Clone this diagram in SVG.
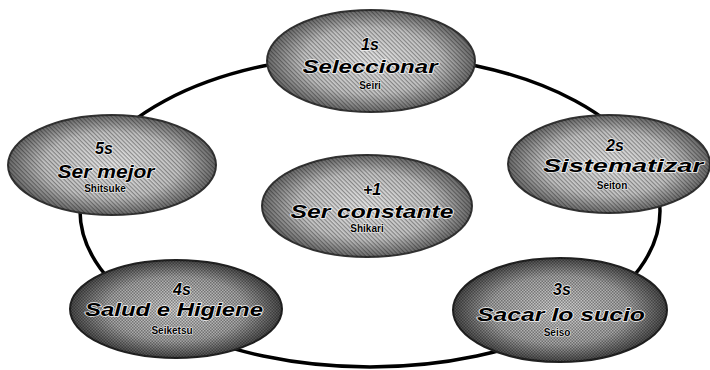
<svg xmlns="http://www.w3.org/2000/svg" width="710" height="370" viewBox="0 0 710 370">
<defs>
<radialGradient id="g" cx="50%" cy="50%" r="50%">
<stop offset="0" stop-color="#e6e6e6"/>
<stop offset="0.65" stop-color="#c4c4c4"/>
<stop offset="1" stop-color="#6a6a6a"/>
</radialGradient>
<radialGradient id="gd" cx="50%" cy="50%" r="50%">
<stop offset="0" stop-color="#d0d0d0"/>
<stop offset="0.65" stop-color="#a8a8a8"/>
<stop offset="1" stop-color="#4a4a4a"/>
</radialGradient>
<pattern id="h" width="3" height="3" patternUnits="userSpaceOnUse" patternTransform="rotate(45)">
<rect width="3" height="1.2" fill="#000" fill-opacity="0.35"/>
</pattern>
<pattern id="hd" width="3" height="3" patternUnits="userSpaceOnUse">
<rect width="1.5" height="1.5" fill="#000" fill-opacity="0.35"/>
<rect x="1.5" y="1.5" width="1.5" height="1.5" fill="#000" fill-opacity="0.35"/>
</pattern>
</defs>
<style>
.base{fill:url(#g);stroke:#333;stroke-width:2}
.based{fill:url(#gd);stroke:#222;stroke-width:2}
.tex{fill:url(#h);stroke:none}
.texd{fill:url(#hd);stroke:none}
text{font-family:"Liberation Sans",Arial,sans-serif;font-weight:bold;text-anchor:middle;fill:#000;stroke:#f2f2f2;stroke-width:1.4;paint-order:stroke;stroke-linejoin:round}
.big{font-size:18px;font-style:italic}
.num{font-size:16px;font-style:italic}
.sm{font-size:10px;stroke-width:1.2}
.ring{fill:none;stroke:#000;stroke-width:3.5}
</style>
<rect width="710" height="370" fill="#fff"/>
<g id="connectors">
<ellipse class="ring" cx="370" cy="211" rx="290" ry="156"/>
</g>
<g id="node-1s">
<ellipse class="base" cx="371" cy="61" rx="104" ry="51"/>
<ellipse class="tex" cx="371" cy="61" rx="104" ry="51"/>
<text class="num" x="370" y="50">1s</text>
<text class="big" x="370" y="73" textLength="135" lengthAdjust="spacingAndGlyphs">Seleccionar</text>
<text class="sm" x="370" y="89">Seiri</text>
</g>
<g id="node-2s">
<ellipse class="base" cx="609" cy="164" rx="101" ry="49"/>
<ellipse class="tex" cx="609" cy="164" rx="101" ry="49"/>
<text class="num" x="615" y="151">2s</text>
<text class="big" x="623" y="172" textLength="160" lengthAdjust="spacingAndGlyphs">Sistematizar</text>
<text class="sm" x="612" y="189">Seiton</text>
</g>
<g id="node-3s">
<ellipse class="based" cx="560" cy="310" rx="107" ry="52"/>
<ellipse class="texd" cx="560" cy="310" rx="107" ry="52"/>
<text class="num" x="562" y="295">3s</text>
<text class="big" x="561" y="321" textLength="168" lengthAdjust="spacingAndGlyphs">Sacar lo sucio</text>
<text class="sm" x="557" y="336">Seiso</text>
</g>
<g id="node-4s">
<ellipse class="based" cx="176" cy="309" rx="106" ry="49"/>
<ellipse class="texd" cx="176" cy="309" rx="106" ry="49"/>
<text class="num" x="182" y="295">4s</text>
<text class="big" x="174" y="316" textLength="178" lengthAdjust="spacingAndGlyphs">Salud e Higiene</text>
<text class="sm" x="172" y="334">Seiketsu</text>
</g>
<g id="node-5s">
<ellipse class="base" cx="112" cy="165" rx="104" ry="50"/>
<ellipse class="tex" cx="112" cy="165" rx="104" ry="50"/>
<text class="num" x="104" y="154">5s</text>
<text class="big" x="106" y="178" textLength="97" lengthAdjust="spacingAndGlyphs">Ser mejor</text>
<text class="sm" x="105" y="192">Shitsuke</text>
</g>
<g id="node-plus1">
<ellipse class="base" cx="367" cy="206" rx="105" ry="51"/>
<ellipse class="tex" cx="367" cy="206" rx="105" ry="51"/>
<text class="num" x="372" y="195">+1</text>
<text class="big" x="372" y="218" textLength="163" lengthAdjust="spacingAndGlyphs">Ser constante</text>
<text class="sm" x="367" y="232">Shikari</text>
</g>
</svg>
